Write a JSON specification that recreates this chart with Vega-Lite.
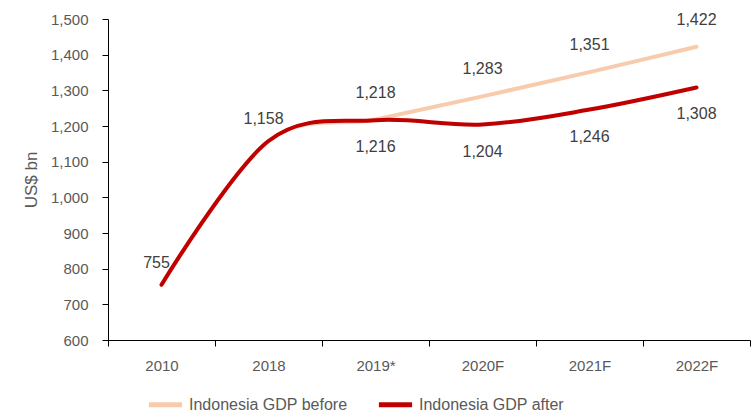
{
  "$schema": "https://vega.github.io/schema/vega-lite/v6.json",
  "width": 642,
  "height": 321,
  "autosize": {"type": "none"},
  "padding": {"left": 108, "top": 19, "right": 1, "bottom": 74},
  "config": {
    "view": {"stroke": null},
    "font": "Liberation Sans",
    "axis": {"labelFont": "Liberation Sans", "titleFont": "Liberation Sans"}
  },
  "data": {
    "values": [
      {"series": "Indonesia GDP before", "year": "2010", "value": 755},
      {"series": "Indonesia GDP before", "year": "2018", "value": 1158},
      {"series": "Indonesia GDP before", "year": "2019*", "value": 1218},
      {"series": "Indonesia GDP before", "year": "2020F", "value": 1283},
      {"series": "Indonesia GDP before", "year": "2021F", "value": 1351},
      {"series": "Indonesia GDP before", "year": "2022F", "value": 1422},
      {"series": "Indonesia GDP after", "year": "2010", "value": 755},
      {"series": "Indonesia GDP after", "year": "2018", "value": 1158},
      {"series": "Indonesia GDP after", "year": "2019*", "value": 1216},
      {"series": "Indonesia GDP after", "year": "2020F", "value": 1204},
      {"series": "Indonesia GDP after", "year": "2021F", "value": 1246},
      {"series": "Indonesia GDP after", "year": "2022F", "value": 1308}
    ]
  },
  "encoding": {
    "x": {
      "field": "year", "type": "ordinal", "bandPosition": 0.5,
      "sort": ["2010", "2018", "2019*", "2020F", "2021F", "2022F"],
      "scale": {"type": "band", "paddingInner": 0, "paddingOuter": 0},
      "axis": {
        "title": null, "labelAngle": 0, "tickBand": "extent",
        "domainColor": "#000000", "tickColor": "#000000", "tickSize": 6,
        "labelFontSize": 15, "labelColor": "#595959", "labelPadding": 12, "grid": false
      }
    },
    "y": {
      "field": "value", "type": "quantitative",
      "scale": {"domain": [600, 1500], "nice": false, "zero": false},
      "axis": {
        "title": "US$ bn", "titleFontSize": 17, "titleFontWeight": "normal", "titleColor": "#595959",
        "titlePadding": 10,
        "values": [600, 700, 800, 900, 1000, 1100, 1200, 1300, 1400, 1500],
        "format": ",.0f", "labelFontSize": 15, "labelColor": "#595959", "labelPadding": 14,
        "domainColor": "#000000", "tickColor": "#000000", "tickSize": 6, "grid": false
      }
    }
  },
  "layer": [
    {
      "mark": {"type": "line", "interpolate": "cardinal", "strokeWidth": 4, "strokeCap": "round"},
      "encoding": {
        "color": {
          "field": "series", "type": "nominal",
          "scale": {"domain": ["Indonesia GDP before", "Indonesia GDP after"], "range": ["#F8CBAD", "#C00000"]},
          "legend": {
            "title": null, "orient": "none", "direction": "horizontal",
            "legendX": 38, "legendY": 366,
            "symbolType": "stroke", "symbolStrokeWidth": 5, "symbolSize": 1100,
            "labelFontSize": 16, "labelColor": "#595959", "columnPadding": 20, "labelOffset": 4
          }
        },
        "order": {"field": "series", "sort": "descending"}
      }
    },
    {
      "transform": [
        {"filter": "datum.series == 'Indonesia GDP before' && datum.year != '2010' && datum.year != '2018'"}
      ],
      "mark": {"type": "text", "dy": -27, "fontSize": 16, "color": "#404040"},
      "encoding": {"text": {"field": "value", "type": "quantitative", "format": ",.0f"}}
    },
    {
      "transform": [
        {"filter": "datum.series == 'Indonesia GDP after' && datum.year != '2010' && datum.year != '2018'"}
      ],
      "mark": {"type": "text", "dy": 27, "fontSize": 16, "color": "#404040"},
      "encoding": {"text": {"field": "value", "type": "quantitative", "format": ",.0f"}}
    },
    {
      "transform": [
        {"filter": "datum.series == 'Indonesia GDP after' && (datum.year == '2010' || datum.year == '2018')"}
      ],
      "mark": {"type": "text", "dy": -22, "dx": -5, "fontSize": 16, "color": "#404040"},
      "encoding": {"text": {"field": "value", "type": "quantitative", "format": ",.0f"}}
    }
  ]
}
